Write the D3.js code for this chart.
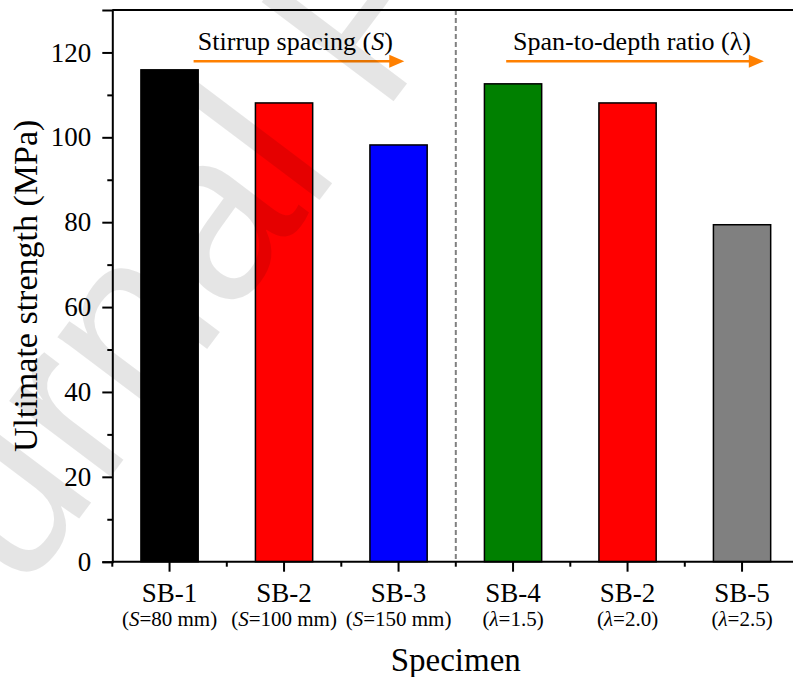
<!doctype html>
<html lang="en">
<head>
<meta charset="utf-8">
<title>ultimate strength</title>
<style>
  body { margin: 0; background: #fff; }
  svg text { font-family: "Liberation Serif", "Times New Roman", serif; fill: #000; }
  .axis path, .axis line { stroke: #000; stroke-width: 2; }
  .axis text { font-size: 27px; }
</style>
</head>
<body>
<div id="graph"></div>
<script src="https://d3js.org/d3.v7.min.js"></script>
<script>
// values
var specimens = ["SB-1", "SB-2", "SB-3", "SB-4", "SB-2", "SB-5"];
var paramSymbols = ["S", "S", "S", "λ", "λ", "λ"];
var paramValues = ["=80 mm", "=100 mm", "=150 mm", "=1.5", "=2.0", "=2.5"];
var strength = [115.9, 108.1, 98.2, 112.6, 108.1, 79.4];
var barColors = ["#000000", "#ff0000", "#0000ff", "#008000", "#ff0000", "#808080"];
var yTicks = [0, 20, 40, 60, 80, 100, 120];
var yMinorTicks = [10, 30, 50, 70, 90, 110];
var groupLabels = ["Stirrup spacing (", "Span-to-depth ratio ("];
var groupSymbols = ["S", "λ"];

var W = 793, H = 677;
var mLeft = 112.3, mTop = 10, mRight = 799.3, mBottom = 561.7;

var svg = d3.select("#graph").append("svg")
    .attr("width", W)
    .attr("height", H);

var idx = d3.range(specimens.length);

var x = d3.scaleBand()
    .domain(idx)
    .range([mLeft, mRight])
    .paddingInner(0.5)
    .paddingOuter(0.25);

// continuous version of the category axis, for annotations
var xPos = d3.scaleLinear().domain([0.5, 6.5]).range([mLeft, mRight]);

var y = d3.scaleLinear().domain([0, 130]).range([mBottom, mTop]);

// bars
svg.append("g").selectAll("rect")
    .data(idx)
    .enter().append("rect")
    .attr("x", function(i) { return x(i); })
    .attr("y", function(i) { return y(strength[i]); })
    .attr("width", x.bandwidth())
    .attr("height", function(i) { return y(0) - y(strength[i]); })
    .attr("fill", function(i) { return barColors[i]; })
    .attr("stroke", "#000")
    .attr("stroke-width", 1.5);

// divider between the two groups
svg.append("line")
    .attr("x1", xPos(3.5)).attr("x2", xPos(3.5))
    .attr("y1", mTop).attr("y2", mBottom)
    .attr("stroke", "#808080")
    .attr("stroke-width", 2)
    .attr("stroke-dasharray", "5,3");

// frame top / right
svg.append("path")
    .attr("d", "M" + mLeft + "," + mTop + "H" + mRight + "V" + mBottom)
    .attr("fill", "none")
    .attr("stroke", "#000")
    .attr("stroke-width", 2);

// y axis
var yAxis = d3.axisLeft(y).tickValues(yTicks).tickSize(10).tickPadding(11);
svg.append("g")
    .attr("class", "axis")
    .attr("transform", "translate(" + mLeft + ",0)")
    .call(yAxis);
svg.append("g")
    .attr("class", "axis")
    .attr("transform", "translate(" + mLeft + ",0)")
    .call(d3.axisLeft(y).tickValues(yMinorTicks).tickSize(5).tickFormat(""))
    .select(".domain").remove();

// x axis
var xAxis = d3.axisBottom(x)
    .tickSize(10)
    .tickPadding(11)
    .tickFormat(function(i) { return specimens[i]; });
var gx = svg.append("g")
    .attr("class", "axis")
    .attr("transform", "translate(0," + mBottom + ")")
    .call(xAxis);
gx.select(".domain").attr("d", "M" + mLeft + ",0H" + mRight);

// minor ticks at category boundaries
gx.selectAll(".minor")
    .data(d3.range(0.5, 7, 1))
    .enter().append("line")
    .attr("class", "minor")
    .attr("x1", function(d) { return xPos(d); })
    .attr("x2", function(d) { return xPos(d); })
    .attr("y1", 0).attr("y2", 5);

// second line of the category labels
gx.selectAll(".tick").each(function(i) {
    var t = d3.select(this).append("text")
        .attr("y", 64)
        .attr("text-anchor", "middle")
        .style("font-size", "21px");
    t.append("tspan").text("(");
    t.append("tspan").style("font-style", "italic").text(paramSymbols[i]);
    t.append("tspan").text(paramValues[i] + ")");
});

// group annotations with arrows
var arrowStart = [1.21, 3.94], arrowEnd = [3.05, 6.19];
var labelStart = [1.247, 4.0];
var orange = "#ff8000";
groupLabels.forEach(function(lbl, k) {
    var t = svg.append("text")
        .attr("x", xPos(labelStart[k]))
        .attr("y", y(120.6))
        .style("font-size", "26px");
    t.append("tspan").text(lbl);
    t.append("tspan").style("font-style", k === 0 ? "italic" : "normal").text(groupSymbols[k]);
    t.append("tspan").text(")");

    var ay = y(117.9), x0 = xPos(arrowStart[k]), x1 = xPos(arrowEnd[k]);
    svg.append("line")
        .attr("x1", x0).attr("x2", x1 - 12)
        .attr("y1", ay).attr("y2", ay)
        .attr("stroke", orange)
        .attr("stroke-width", 2.5);
    svg.append("path")
        .attr("d", "M" + x1 + "," + ay + "L" + (x1 - 15) + "," + (ay - 6.5) + "L" + (x1 - 15) + "," + (ay + 6.5) + "Z")
        .attr("fill", orange);
});

// axis titles
svg.append("text")
    .attr("transform", "translate(37," + ((mTop + mBottom) / 2) + ") rotate(-90)")
    .attr("text-anchor", "middle")
    .style("font-size", "34px")
    .text("Ultimate strength (MPa)");

svg.append("text")
    .attr("x", xPos(3.5))
    .attr("y", 671)
    .attr("text-anchor", "middle")
    .style("font-size", "33px")
    .text("Specimen");

// watermark
svg.append("text")
    .attr("transform", "translate(-132,799) rotate(-53)")
    .style("font-family", "'Liberation Sans', Arial, sans-serif")
    .style("font-size", "240px")
    .style("fill", "#000")
    .style("fill-opacity", 0.1)
    .text("Journal Pre-proof");
</script>
</body>
</html>
